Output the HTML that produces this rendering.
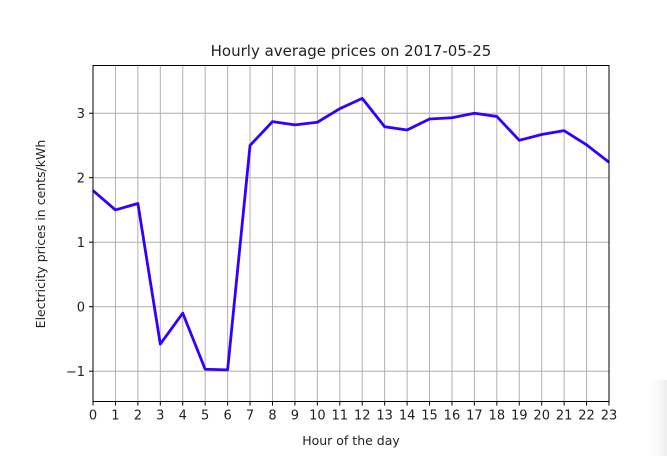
<!DOCTYPE html>
<html><head><meta charset="utf-8"><style>
body{margin:0;background:#fff;width:667px;height:456px;overflow:hidden;font-family:"DejaVu Sans","Liberation Sans",sans-serif}
</style></head><body>
<svg width="667" height="456" xmlns="http://www.w3.org/2000/svg">
<defs><linearGradient id="sh" x1="0" x2="1"><stop offset="0" stop-color="#fff" stop-opacity="0"/><stop offset="1" stop-color="#ececec"/></linearGradient></defs>
<rect x="645" y="380" width="22" height="76" fill="url(#sh)"/>
<g id="grid"></g>
<g id="ticks"></g>
<polyline id="line" fill="none" stroke="#3300ff" stroke-width="2.8" stroke-linejoin="round"/>
<rect x="93" y="65.5" width="516" height="336" fill="none" stroke="#000" stroke-width="1"/>
<text x="351" y="56" font-size="15" text-anchor="middle" fill="#222">Hourly average prices on 2017-05-25</text>
<text x="351" y="445" font-size="12.5" text-anchor="middle" fill="#222">Hour of the day</text>
<text transform="translate(45,234) rotate(-90)" font-size="12.5" text-anchor="middle" fill="#222">Electricity prices in cents/kWh</text>
</svg>
<script>
const hours=[0,1,2,3,4,5,6,7,8,9,10,11,12,13,14,15,16,17,18,19,20,21,22,23];
const prices=[1.8,1.5,1.6,-0.58,-0.1,-0.97,-0.98,2.5,2.87,2.82,2.86,3.07,3.23,2.79,2.74,2.91,2.93,3.0,2.95,2.58,2.67,2.73,2.51,2.24];
const yTicks=[-1,0,1,2,3];
const yTickLabels=["\u22121","0","1","2","3"];
const X0=93,X1=609,Y0=401.5,Y1=65.5,ymin=-1.47,ymax=3.74;
const sx=h=>X0+(h-0)/(23-0)*(X1-X0);
const sy=v=>Y0-(v-ymin)/(ymax-ymin)*(Y0-Y1);
const NS="http://www.w3.org/2000/svg";
const grid=document.getElementById('grid'),ticks=document.getElementById('ticks');
function mk(tag,attrs,parent){const e=document.createElementNS(NS,tag);for(const k in attrs)e.setAttribute(k,attrs[k]);parent.appendChild(e);return e;}
hours.forEach(h=>{
  const x=sx(h);
  const g=mk('line',{x1:x,x2:x,y1:Y1,y2:Y0,stroke:'#b0b0b0','stroke-width':1},grid);
  
  
  const t=mk('line',{x1:x,x2:x,y1:Y0,y2:Y0+4,stroke:'#000'},ticks);
  
  
  const l=mk('text',{x:x,y:Y0+18,'font-size':13,'text-anchor':'middle',fill:'#222'},ticks);
  l.textContent=String(h);
  
  
});
yTicks.forEach((v,i)=>{
  const y=sy(v);
  const g=mk('line',{x1:X0,x2:X1,y1:y,y2:y,stroke:'#b0b0b0','stroke-width':1},grid);
  
  
  const t=mk('line',{x1:X0-4,x2:X0,y1:y,y2:y,stroke:'#000'},ticks);
  
  
  const l=mk('text',{x:X0-8,y:y+5,'font-size':13,'text-anchor':'end',fill:'#222'},ticks);
  l.textContent=yTickLabels[i];
  
  
});
document.getElementById('line').setAttribute('points',hours.map((h,i)=>sx(h)+','+sy(prices[i])).join(' '));
</script>
</body></html>
